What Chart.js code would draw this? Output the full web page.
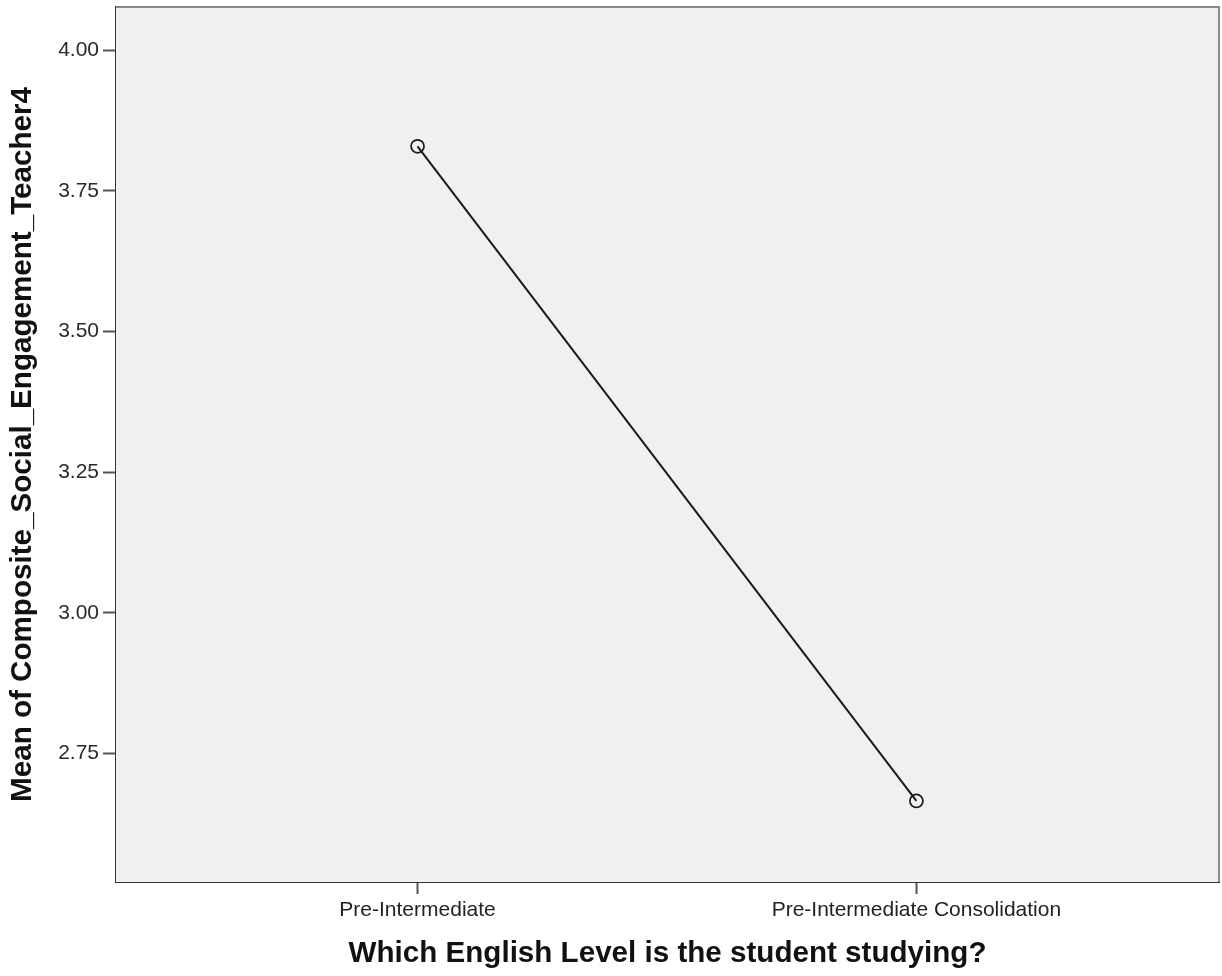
<!DOCTYPE html>
<html>
<head>
<meta charset="utf-8">
<script src="https://cdn.jsdelivr.net/npm/chart.js@4/dist/chart.umd.min.js"></script>
<style>
  html, body { margin: 0; padding: 0; background: #fff; }
  #wrap { width: 1222px; height: 976px; }
</style>
</head>
<body>
<div id="wrap"><canvas id="meanChart" width="1222" height="976"></canvas></div>
<script>
// data
var categories = ['Pre-Intermediate', 'Pre-Intermediate Consolidation'];
var means = [3.829, 2.666];
var yTicks = [2.75, 3.00, 3.25, 3.50, 3.75, 4.00];

var points = categories.map(function (c, i) {
    return { x: i, y: means[i] };
});

// grey plot background + lighter top/right frame like SPSS output
var frame = {
    id: 'frame',
    beforeDatasetsDraw: function (chart) {
        var a = chart.chartArea, c = chart.ctx;
        c.save();
        c.fillStyle = '#f0f0f0';
        c.fillRect(a.left, a.top, a.right - a.left, a.bottom - a.top);
        c.restore();
    },
    afterDraw: function (chart) {
        var a = chart.chartArea, c = chart.ctx;
        c.save();
        c.strokeStyle = '#8a8a8a';
        c.lineWidth = 2;
        c.beginPath();
        c.moveTo(a.left, a.top);
        c.lineTo(a.right, a.top);
        c.lineTo(a.right, a.bottom);
        c.stroke();
        c.restore();
    }
};

var ctx = document.getElementById('meanChart').getContext('2d');
var myChart = new Chart(ctx, {
    type: 'line',
    data: {
        datasets: [{
            data: points,
            borderColor: '#1a1a1a',
            borderWidth: 2,
            pointRadius: 6.5,
            pointHoverRadius: 6.5,
            pointBorderWidth: 1.7,
            pointBorderColor: '#1a1a1a',
            pointBackgroundColor: 'rgba(0,0,0,0)',
            tension: 0
        }]
    },
    options: {
        responsive: false,
        animation: false,
        layout: { autoPadding: false, padding: { top: 7, right: 3, left: 0, bottom: 0 } },
        plugins: { legend: { display: false }, tooltip: { enabled: false } },
        scales: {
            x: {
                type: 'linear',
                min: -0.6045,
                max: 1.6066,
                afterBuildTicks: function (scale) {
                    scale.ticks = categories.map(function (c, i) { return { value: i }; });
                },
                afterFit: function (scale) {
                    scale.height = 94;
                    scale.paddingLeft = 0;
                    scale.paddingRight = 0;
                },
                grid: { drawOnChartArea: false, tickLength: 12, color: '#555', tickWidth: 2 },
                border: { display: true, color: '#333', width: 2 },
                ticks: {
                    autoSkip: false,
                    maxRotation: 0,
                    padding: 4,
                    color: '#222',
                    font: { family: 'Liberation Sans', size: 21 },
                    callback: function (v) { return categories[v]; }
                },
                title: {
                    display: true,
                    text: 'Which English Level is the student studying?',
                    color: '#111',
                    font: { family: 'Liberation Sans', size: 29.6, weight: 'bold' },
                    padding: { top: 0, bottom: 4 }
                }
            },
            y: {
                min: 2.522,
                max: 4.0765,
                afterBuildTicks: function (scale) {
                    scale.ticks = yTicks.map(function (v) { return { value: v }; });
                },
                afterFit: function (scale) {
                    scale.width = 116;
                    scale.paddingTop = 0;
                    scale.paddingBottom = 0;
                },
                grid: { drawOnChartArea: false, tickLength: 13, color: '#555', tickWidth: 2 },
                border: { display: true, color: '#333', width: 2 },
                ticks: {
                    padding: 4,
                    color: '#2a2a2a',
                    font: { family: 'Liberation Sans', size: 21 },
                    callback: function (v) { return v.toFixed(2); }
                },
                title: {
                    display: true,
                    text: 'Mean of Composite_Social_Engagement_Teacher4',
                    color: '#111',
                    font: { family: 'Liberation Sans', size: 29.6, weight: 'bold' },
                    padding: { top: 5, bottom: 0 }
                }
            }
        }
    },
    plugins: [frame]
});
</script>
</body>
</html>
